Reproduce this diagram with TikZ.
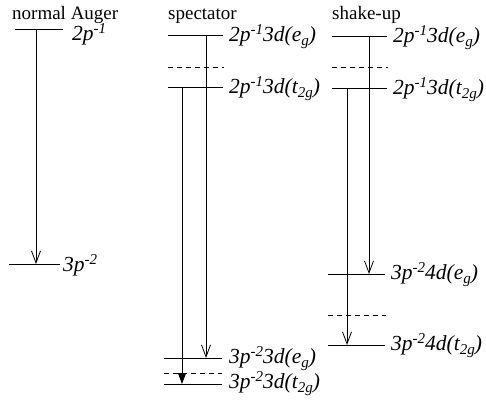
\documentclass[tikz,border=0pt]{standalone}
\usepackage{fontspec}
\setmainfont{Liberation Serif}
\usetikzlibrary{arrows.meta}
\tikzset{
  lvl/.style={line width=0.8pt},
  dlvl/.style={line width=0.8pt, dash pattern=on 5pt off 4pt},
  arr/.style={line width=0.8pt, -{Straight Barb[length=12pt,width=9pt,line width=0.8pt]}},
  farr/.style={line width=0.8pt, -{Triangle[length=11pt,width=8pt]}},
  ttl/.style={font=\fontsize{19}{22}\selectfont, anchor=base west, inner sep=0pt},
  lab/.style={font=\fontsize{21.5}{24}\selectfont\itshape, anchor=base west, inner sep=0pt},
}
\newcommand{\spr}[1]{\raisebox{0.3em}{\fontsize{15}{15}\selectfont #1}}
\newcommand{\sbr}[1]{\raisebox{-0.22em}{\fontsize{15}{15}\selectfont #1}}
\begin{document}
\begin{tikzpicture}[x=1pt,y=-1pt]
\useasboundingbox (0,0) rectangle (486,400);
% titles
\node[ttl] (t1) at (12,19) {normal Auger};
\node[ttl] (t2) at (168,19) {spectator};
\node[ttl] (t3) at (332,19) {shake-up};
% normal Auger
\draw[lvl] (15,29) -- (63,29);
\draw[lvl] (9,264) -- (60,264);
\node[lab] (n1) at (72,40) {2p\spr{-1}};
\node[lab] (n2) at (63,271) {3p\spr{-2}};
\coordinate (na) at (36,29);
\coordinate (nb) at (36,264);
\draw[arr] (na) -- (nb);
% spectator
\draw[lvl] (168,35) -- (223,35);
\draw[dlvl] (168,67) -- (224,67);
\draw[lvl] (168,87) -- (223,87);
\draw[lvl] (164,358) -- (222,358);
\draw[dlvl] (164,373) -- (222,373);
\draw[lvl] (164,384) -- (222,384);
\node[lab] (s1) at (229,41) {2p\spr{-1}3d(e\sbr{g})};
\node[lab] (s2) at (229,93) {2p\spr{-1}3d(t\sbr{2g})};
\node[lab] (s3) at (229,363) {3p\spr{-2}3d(e\sbr{g})};
\node[lab] (s4) at (229,388) {3p\spr{-2}3d(t\sbr{2g})};
\coordinate (sa) at (206,35);
\coordinate (sb) at (206,358);
\coordinate (sc) at (182,87);
\coordinate (sd) at (182,384);
\draw[arr] (sa) -- (sb);
\draw[farr] (sc) -- (sd);
% shake-up
\draw[lvl] (332,36) -- (387,36);
\draw[dlvl] (332,67) -- (388,67);
\draw[lvl] (332,88) -- (387,88);
\draw[lvl] (328,274) -- (385,274);
\draw[dlvl] (328,315) -- (386,315);
\draw[lvl] (328,345) -- (385,345);
\node[lab] (k1) at (393,42) {2p\spr{-1}3d(e\sbr{g})};
\node[lab] (k2) at (393,94) {2p\spr{-1}3d(t\sbr{2g})};
\node[lab] (k3) at (391,279) {3p\spr{-2}4d(e\sbr{g})};
\node[lab] (k4) at (391,350) {3p\spr{-2}4d(t\sbr{2g})};
\coordinate (ka) at (369,36);
\coordinate (kb) at (369,274);
\coordinate (kc) at (347,88);
\coordinate (kd) at (347,345);
\draw[arr] (ka) -- (kb);
\draw[arr] (kc) -- (kd);
\end{tikzpicture}
\end{document}
